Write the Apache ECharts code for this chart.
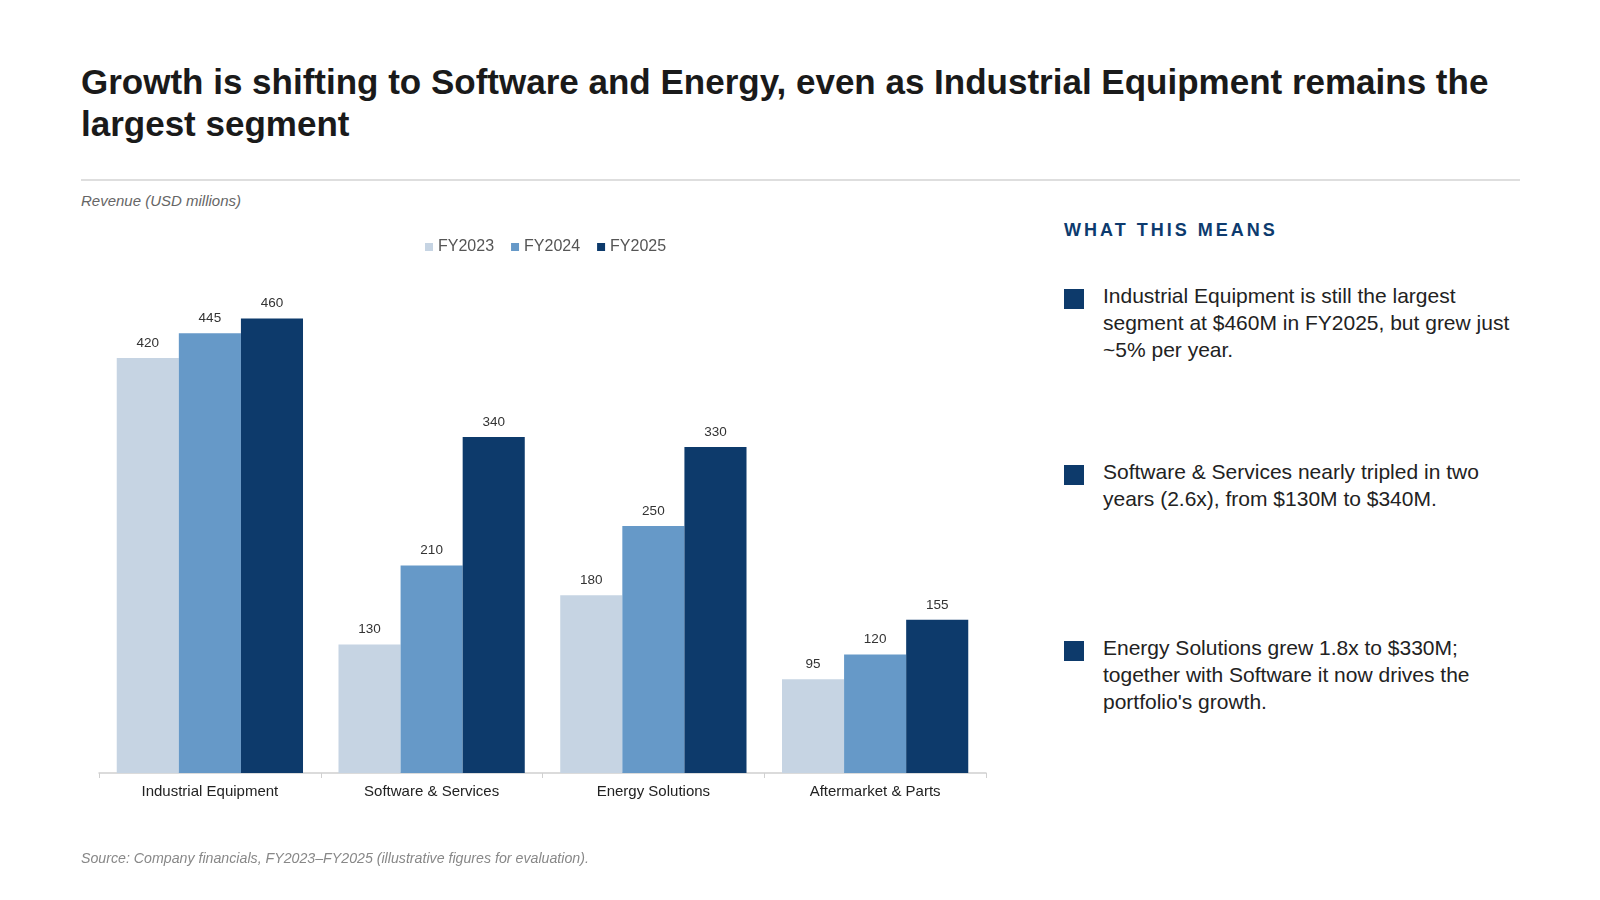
<!DOCTYPE html>
<html lang="en">
<head>
  <meta charset="UTF-8">
  <title>Revenue by segment</title>
  <script src="https://cdn.jsdelivr.net/npm/echarts@6/dist/echarts.min.js"></script>
  <style>
    html, body { margin: 0; padding: 0; background: #fff; }
    body { width: 1600px; height: 900px; position: relative; overflow: hidden;
           font-family: "Liberation Sans", Arial, Helvetica, sans-serif; color: #222; }
    #title { position: absolute; left: 81px; top: 61px; width: 1440px; margin: 0;
             font-size: 35px; font-weight: bold; line-height: 42px; color: #1a1a1a; }
    #rule { position: absolute; left: 81px; top: 179px; width: 1439px; height: 0;
            border-top: 2px solid #dedede; }
    #unit { position: absolute; left: 81px; top: 192px; font-size: 15px; font-style: italic; color: #666; }
    #main { position: absolute; left: 0; top: 0; width: 1010px; height: 900px; }
    #side { position: absolute; left: 1064px; top: 220px; width: 470px; }
    #side h4 { margin: 0; font-size: 18px; font-weight: bold; letter-spacing: 3px; color: #0d3b6e; }
    .pt { position: absolute; left: 0; width: 470px; }
    .pt i { position: absolute; left: 0; top: 7px; width: 20px; height: 20px; background: #0d3a6b; }
    .pt p { margin: 0 0 0 39px; font-size: 21px; line-height: 27px; color: #222; width: 420px; }
    #src { position: absolute; left: 81px; top: 850px; font-size: 14.2px; font-style: italic; color: #888; }
  </style>
</head>
<body>
  <h1 id="title">Growth is shifting to Software and Energy, even as Industrial Equipment remains the largest segment</h1>
  <div id="rule"></div>
  <div id="unit">Revenue (USD millions)</div>
  <div id="main"></div>
  <div id="side">
    <h4>WHAT THIS MEANS</h4>
    <div class="pt" style="top:62px"><i></i><p>Industrial Equipment is still the largest segment at $460M in FY2025, but grew just ~5% per year.</p></div>
    <div class="pt" style="top:238px"><i></i><p>Software &amp; Services nearly tripled in two years (2.6x), from $130M to $340M.</p></div>
    <div class="pt" style="top:414px"><i></i><p>Energy Solutions grew 1.8x to $330M; together with Software it now drives the portfolio's growth.</p></div>
  </div>
  <div id="src">Source: Company financials, FY2023–FY2025 (illustrative figures for evaluation).</div>

  <script type="text/javascript">
    // 数据
    var segments = ['Industrial Equipment', 'Software & Services', 'Energy Solutions', 'Aftermarket & Parts'];
    var years = ['FY2023', 'FY2024', 'FY2025'];
    var fy2023 = [420, 130, 180, 95];
    var fy2024 = [445, 210, 250, 120];
    var fy2025 = [460, 340, 330, 155];
    var colors = ['#c6d4e3', '#6699c8', '#0d3a6b'];

    var myChart = echarts.init(document.getElementById('main'));

    function bar(name, data, color) {
      return {
        name: name,
        type: 'bar',
        data: data,
        barGap: '0%',
        barCategoryGap: '16%',
        itemStyle: { color: color },
        label: { show: true, position: 'top', distance: 8, fontSize: 13.5, color: '#333',
                 fontFamily: 'Liberation Sans, Arial, sans-serif' }
      };
    }

    myChart.setOption({
      animation: false,
      color: colors,
      textStyle: { fontFamily: 'Liberation Sans, Arial, sans-serif' },
      legend: {
        data: years,
        left: 420,
        top: 234,
        itemWidth: 8,
        itemHeight: 8,
        itemGap: 17,
        icon: 'rect',
        textStyle: { fontSize: 16, color: '#555' }
      },
      grid: { left: 99, width: 887, top: 279, bottom: 127 },
      xAxis: {
        type: 'category',
        data: segments,
        axisLine: { lineStyle: { color: '#d0d0d0', width: 1.5 } },
        axisTick: { show: true, length: 5, lineStyle: { color: '#d0d0d0' } },
        axisLabel: { fontSize: 15, color: '#222', margin: 11 }
      },
      yAxis: {
        type: 'value',
        min: 0,
        max: 500,
        show: false
      },
      series: [
        bar(years[0], fy2023, colors[0]),
        bar(years[1], fy2024, colors[1]),
        bar(years[2], fy2025, colors[2])
      ]
    });
  </script>
</body>
</html>
